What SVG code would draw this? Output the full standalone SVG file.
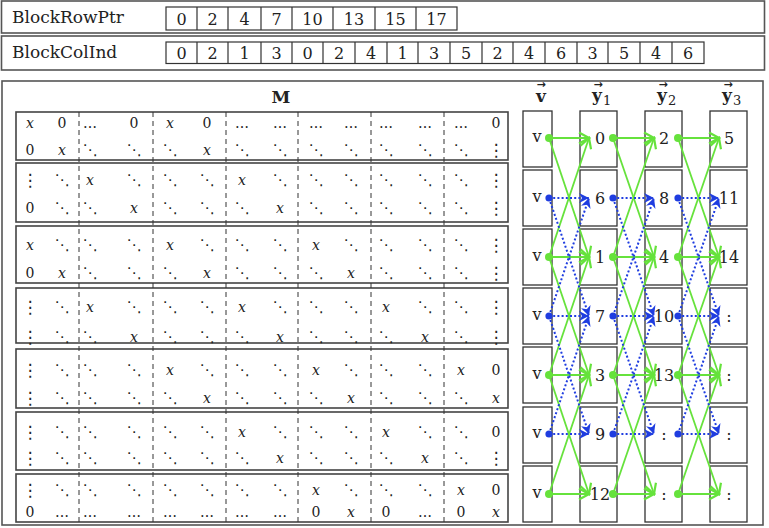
<svg xmlns="http://www.w3.org/2000/svg" width="769" height="528" viewBox="0 0 769 528">
<style>
.frame{fill:#fff;stroke:#555;stroke-width:1.6}
.cell{fill:#fff;stroke:#333;stroke-width:1.2}
.lab{font-family:"DejaVu Serif",serif;font-size:17px;fill:#222}
.num{font-family:"DejaVu Serif",serif;font-size:16px;fill:#222;text-anchor:middle}
.blk{fill:#fff;stroke:#444;stroke-width:1.6}
.dash{stroke:#333;stroke-width:1;stroke-dasharray:5 4}
.z{font-family:"DejaVu Serif",serif;font-size:14px;fill:#222;text-anchor:middle}
.a{font-family:"DejaVu Serif",serif;font-style:italic;font-size:14px;fill:#222;text-anchor:middle}
.g{font-family:"DejaVu Sans",sans-serif;font-size:15px;fill:#222;text-anchor:middle}
.v{font-family:"DejaVu Sans",sans-serif;font-size:17px;fill:#222;text-anchor:middle}
.hd{font-family:"DejaVu Serif",serif;font-size:17px;font-weight:bold;fill:#222}
.ar{font-family:"DejaVu Sans",sans-serif;font-size:11px;font-weight:bold;fill:#222}
.sub{font-family:"DejaVu Serif",serif;font-size:13px;font-weight:normal;fill:#222}
.box{fill:#fff;stroke:#333;stroke-width:1.3}
.gl{stroke:#66e23c;stroke-width:1.8;fill:none;marker-end:url(#ag)}
.bl{stroke:#1f3de0;stroke-width:2;stroke-dasharray:2 2.2;fill:none;marker-end:url(#ab)}
.gd{fill:#66e23c}
.bd{fill:#1f3de0}
</style>
<defs>
<marker id="ag" viewBox="-12 -7 14 14" markerWidth="14" markerHeight="14" refX="0" refY="0" orient="auto" markerUnits="userSpaceOnUse"><path d="M-10,-5.5 L0,0 L-10,5.5" fill="none" stroke="#66e23c" stroke-width="2.2"/></marker>
<marker id="ab" viewBox="-12 -7 14 14" markerWidth="14" markerHeight="14" refX="0" refY="0" orient="auto" markerUnits="userSpaceOnUse"><path d="M0,0 L-10,-5 L-7,0 L-10,5 Z" fill="#1f3de0"/></marker>
</defs>
<rect width="769" height="528" fill="#fff"/>

<g id="blockrowptr">
<rect class="frame" x="1.5" y="1" width="763" height="32"/>
<text class="lab" x="12" y="23">BlockRowPtr</text>
<rect class="cell" x="166" y="7" width="291" height="23"/>
<path d="M197,7V30M228,7V30M261,7V30M292,7V30M333,7V30M375,7V30M416,7V30" stroke="#333" stroke-width="1.2"/>
<text class="num" x="181.5" y="24.5">0</text><text class="num" x="212.5" y="24.5">2</text><text class="num" x="244.5" y="24.5">4</text><text class="num" x="276.5" y="24.5">7</text><text class="num" x="312.5" y="24.5">10</text><text class="num" x="354" y="24.5">13</text><text class="num" x="395.5" y="24.5">15</text><text class="num" x="436.5" y="24.5">17</text>
</g>

<g id="blockcolind">
<rect class="frame" x="1.5" y="36" width="763" height="34"/>
<text class="lab" x="12" y="58">BlockColInd</text>
<rect class="cell" x="166" y="42" width="538" height="21.5"/>
<path d="M197,42V63.5M228,42V63.5M261,42V63.5M292,42V63.5M323,42V63.5M355,42V63.5M387,42V63.5M418,42V63.5M450,42V63.5M482,42V63.5M513,42V63.5M545,42V63.5M577,42V63.5M608,42V63.5M640,42V63.5M672,42V63.5" stroke="#333" stroke-width="1.2"/>
<text class="num" x="181.5" y="58.5">0</text><text class="num" x="212.5" y="58.5">2</text><text class="num" x="244.5" y="58.5">1</text><text class="num" x="276.5" y="58.5">3</text><text class="num" x="307.5" y="58.5">0</text><text class="num" x="339" y="58.5">2</text><text class="num" x="371" y="58.5">4</text><text class="num" x="402.5" y="58.5">1</text><text class="num" x="434" y="58.5">3</text><text class="num" x="466" y="58.5">5</text><text class="num" x="497.5" y="58.5">2</text><text class="num" x="529" y="58.5">4</text><text class="num" x="561" y="58.5">6</text><text class="num" x="592.5" y="58.5">3</text><text class="num" x="624" y="58.5">5</text><text class="num" x="656" y="58.5">4</text><text class="num" x="688" y="58.5">6</text>
</g>

<rect class="frame" x="2" y="81" width="761" height="444"/>
<text class="hd" x="281" y="103" text-anchor="middle">M</text>

<g id="matrix">
<g id="mrow0">
<rect class="blk" x="16" y="112" width="492" height="48"/>
<text class="a" x="30" y="127.5">x</text><text class="z" x="62" y="127.5">0</text><text class="z" x="90" y="127.5">…</text><text class="z" x="134" y="127.5">0</text><text class="a" x="170" y="127.5">x</text><text class="z" x="207" y="127.5">0</text><text class="z" x="242" y="127.5">…</text><text class="z" x="280" y="127.5">…</text><text class="z" x="316" y="127.5">…</text><text class="z" x="351" y="127.5">…</text><text class="z" x="386" y="127.5">…</text><text class="z" x="425" y="127.5">…</text><text class="z" x="461" y="127.5">…</text><text class="z" x="496" y="127.5">0</text>
<text class="z" x="30" y="154.5">0</text><text class="a" x="62" y="154.5">x</text><text class="g" x="90" y="155">⋱</text><text class="g" x="134" y="155">⋱</text><text class="g" x="170" y="155">⋱</text><text class="a" x="207" y="154.5">x</text><text class="g" x="242" y="155">⋱</text><text class="g" x="280" y="155">⋱</text><text class="g" x="316" y="155">⋱</text><text class="g" x="351" y="155">⋱</text><text class="g" x="386" y="155">⋱</text><text class="g" x="425" y="155">⋱</text><text class="g" x="461" y="155">⋱</text><text class="v" x="496" y="156">⋮</text>
</g>
<g id="mrow1">
<rect class="blk" x="16" y="163" width="492" height="59"/>
<text class="v" x="30" y="186">⋮</text><text class="g" x="62" y="185">⋱</text><text class="a" x="90" y="184.5">x</text><text class="g" x="134" y="185">⋱</text><text class="g" x="170" y="185">⋱</text><text class="g" x="207" y="185">⋱</text><text class="a" x="242" y="184.5">x</text><text class="g" x="280" y="185">⋱</text><text class="g" x="316" y="185">⋱</text><text class="g" x="351" y="185">⋱</text><text class="g" x="386" y="185">⋱</text><text class="g" x="425" y="185">⋱</text><text class="g" x="461" y="185">⋱</text><text class="v" x="496" y="186">⋮</text>
<text class="z" x="30" y="212.5">0</text><text class="g" x="62" y="213">⋱</text><text class="g" x="90" y="213">⋱</text><text class="a" x="134" y="212.5">x</text><text class="g" x="170" y="213">⋱</text><text class="g" x="207" y="213">⋱</text><text class="g" x="242" y="213">⋱</text><text class="a" x="280" y="212.5">x</text><text class="g" x="316" y="213">⋱</text><text class="g" x="351" y="213">⋱</text><text class="g" x="386" y="213">⋱</text><text class="g" x="425" y="213">⋱</text><text class="g" x="461" y="213">⋱</text><text class="v" x="496" y="214">⋮</text>
</g>
<g id="mrow2">
<rect class="blk" x="16" y="226" width="492" height="57"/>
<text class="a" x="30" y="249.5">x</text><text class="g" x="62" y="250">⋱</text><text class="g" x="90" y="250">⋱</text><text class="g" x="134" y="250">⋱</text><text class="a" x="170" y="249.5">x</text><text class="g" x="207" y="250">⋱</text><text class="g" x="242" y="250">⋱</text><text class="g" x="280" y="250">⋱</text><text class="a" x="316" y="249.5">x</text><text class="g" x="351" y="250">⋱</text><text class="g" x="386" y="250">⋱</text><text class="g" x="425" y="250">⋱</text><text class="g" x="461" y="250">⋱</text><text class="v" x="496" y="251">⋮</text>
<text class="z" x="30" y="277.5">0</text><text class="a" x="62" y="277.5">x</text><text class="g" x="90" y="278">⋱</text><text class="g" x="134" y="278">⋱</text><text class="g" x="170" y="278">⋱</text><text class="a" x="207" y="277.5">x</text><text class="g" x="242" y="278">⋱</text><text class="g" x="280" y="278">⋱</text><text class="g" x="316" y="278">⋱</text><text class="a" x="351" y="277.5">x</text><text class="g" x="386" y="278">⋱</text><text class="g" x="425" y="278">⋱</text><text class="g" x="461" y="278">⋱</text><text class="v" x="496" y="279">⋮</text>
</g>
<g id="mrow3">
<rect class="blk" x="16" y="288" width="492" height="55"/>
<text class="v" x="30" y="313">⋮</text><text class="g" x="62" y="312">⋱</text><text class="a" x="90" y="311.5">x</text><text class="g" x="134" y="312">⋱</text><text class="g" x="170" y="312">⋱</text><text class="g" x="207" y="312">⋱</text><text class="a" x="242" y="311.5">x</text><text class="g" x="280" y="312">⋱</text><text class="g" x="316" y="312">⋱</text><text class="g" x="351" y="312">⋱</text><text class="a" x="386" y="311.5">x</text><text class="g" x="425" y="312">⋱</text><text class="g" x="461" y="312">⋱</text><text class="v" x="496" y="313">⋮</text>
<text class="v" x="30" y="343">⋮</text><text class="g" x="62" y="342">⋱</text><text class="g" x="90" y="342">⋱</text><text class="a" x="134" y="341.5">x</text><text class="g" x="170" y="342">⋱</text><text class="g" x="207" y="342">⋱</text><text class="g" x="242" y="342">⋱</text><text class="a" x="280" y="341.5">x</text><text class="g" x="316" y="342">⋱</text><text class="g" x="351" y="342">⋱</text><text class="g" x="386" y="342">⋱</text><text class="a" x="425" y="341.5">x</text><text class="g" x="461" y="342">⋱</text><text class="v" x="496" y="343">⋮</text>
</g>
<g id="mrow4">
<rect class="blk" x="16" y="349" width="492" height="59"/>
<text class="v" x="30" y="376">⋮</text><text class="g" x="62" y="375">⋱</text><text class="g" x="90" y="375">⋱</text><text class="g" x="134" y="375">⋱</text><text class="a" x="170" y="374.5">x</text><text class="g" x="207" y="375">⋱</text><text class="g" x="242" y="375">⋱</text><text class="g" x="280" y="375">⋱</text><text class="a" x="316" y="374.5">x</text><text class="g" x="351" y="375">⋱</text><text class="g" x="386" y="375">⋱</text><text class="g" x="425" y="375">⋱</text><text class="a" x="461" y="374.5">x</text><text class="z" x="496" y="374.5">0</text>
<text class="v" x="30" y="404">⋮</text><text class="g" x="62" y="403">⋱</text><text class="g" x="90" y="403">⋱</text><text class="g" x="134" y="403">⋱</text><text class="g" x="170" y="403">⋱</text><text class="a" x="207" y="402.5">x</text><text class="g" x="242" y="403">⋱</text><text class="g" x="280" y="403">⋱</text><text class="g" x="316" y="403">⋱</text><text class="a" x="351" y="402.5">x</text><text class="g" x="386" y="403">⋱</text><text class="g" x="425" y="403">⋱</text><text class="g" x="461" y="403">⋱</text><text class="a" x="496" y="402.5">x</text>
</g>
<g id="mrow5">
<rect class="blk" x="16" y="412" width="492" height="58"/>
<text class="v" x="30" y="438">⋮</text><text class="g" x="62" y="437">⋱</text><text class="g" x="90" y="437">⋱</text><text class="g" x="134" y="437">⋱</text><text class="g" x="170" y="437">⋱</text><text class="g" x="207" y="437">⋱</text><text class="a" x="242" y="436.5">x</text><text class="g" x="280" y="437">⋱</text><text class="g" x="316" y="437">⋱</text><text class="g" x="351" y="437">⋱</text><text class="a" x="386" y="436.5">x</text><text class="g" x="425" y="437">⋱</text><text class="g" x="461" y="437">⋱</text><text class="z" x="496" y="436.5">0</text>
<text class="v" x="30" y="464">⋮</text><text class="g" x="62" y="463">⋱</text><text class="g" x="90" y="463">⋱</text><text class="g" x="134" y="463">⋱</text><text class="g" x="170" y="463">⋱</text><text class="g" x="207" y="463">⋱</text><text class="g" x="242" y="463">⋱</text><text class="a" x="280" y="462.5">x</text><text class="g" x="316" y="463">⋱</text><text class="g" x="351" y="463">⋱</text><text class="g" x="386" y="463">⋱</text><text class="a" x="425" y="462.5">x</text><text class="g" x="461" y="463">⋱</text><text class="v" x="496" y="464">⋮</text>
</g>
<g id="mrow6">
<rect class="blk" x="16" y="474" width="492" height="48"/>
<text class="v" x="30" y="496">⋮</text><text class="g" x="62" y="495">⋱</text><text class="g" x="90" y="495">⋱</text><text class="g" x="134" y="495">⋱</text><text class="g" x="170" y="495">⋱</text><text class="g" x="207" y="495">⋱</text><text class="g" x="242" y="495">⋱</text><text class="g" x="280" y="495">⋱</text><text class="a" x="316" y="494.5">x</text><text class="g" x="351" y="495">⋱</text><text class="g" x="386" y="495">⋱</text><text class="g" x="425" y="495">⋱</text><text class="a" x="461" y="494.5">x</text><text class="z" x="496" y="494.5">0</text>
<text class="z" x="30" y="516.5">0</text><text class="z" x="62" y="516.5">…</text><text class="z" x="90" y="516.5">…</text><text class="z" x="134" y="516.5">…</text><text class="z" x="170" y="516.5">…</text><text class="z" x="207" y="516.5">…</text><text class="z" x="242" y="516.5">…</text><text class="z" x="280" y="516.5">…</text><text class="z" x="316" y="516.5">0</text><text class="a" x="351" y="516.5">x</text><text class="z" x="386" y="516.5">0</text><text class="z" x="425" y="516.5">…</text><text class="z" x="461" y="516.5">0</text><text class="a" x="496" y="516.5">x</text>
</g>
<path class="dash" d="M79,112V522M153,112V522M226,112V522M298,112V522M371,112V522M444,112V522"/>
</g>

<g id="headers">
<text class="hd" x="536" y="102">v<tspan class="ar" x="536.5" y="88">→</tspan></text>
<text class="hd" x="592" y="101">y<tspan class="ar" x="593.5" y="88">→</tspan><tspan class="sub" x="603" y="105">1</tspan></text>
<text class="hd" x="657" y="101">y<tspan class="ar" x="658.5" y="88">→</tspan><tspan class="sub" x="668" y="105">2</tspan></text>
<text class="hd" x="722" y="101">y<tspan class="ar" x="723.5" y="88">→</tspan><tspan class="sub" x="733" y="105">3</tspan></text>
</g>

<g id="vcol">
<g id="v0"><rect class="box" x="523" y="111" width="29" height="56"/><text class="num" x="537" y="142">v</text></g>
<g id="v1"><rect class="box" x="523" y="170" width="29" height="56"/><text class="num" x="537" y="202">v</text></g>
<g id="v2"><rect class="box" x="523" y="229" width="29" height="56"/><text class="num" x="537" y="261">v</text></g>
<g id="v3"><rect class="box" x="523" y="288" width="29" height="56"/><text class="num" x="537" y="320">v</text></g>
<g id="v4"><rect class="box" x="523" y="347" width="29" height="56"/><text class="num" x="537" y="379">v</text></g>
<g id="v5"><rect class="box" x="523" y="407" width="29" height="56"/><text class="num" x="537" y="438">v</text></g>
<g id="v6"><rect class="box" x="523" y="466" width="29" height="56"/><text class="num" x="537" y="498">v</text></g>
</g>
<g id="y1col">
<g id="y1_0"><rect class="box" x="580" y="111" width="37" height="56"/><text class="num" x="600" y="144">0</text></g>
<g id="y1_1"><rect class="box" x="580" y="170" width="37" height="56"/><text class="num" x="600" y="204">6</text></g>
<g id="y1_2"><rect class="box" x="580" y="229" width="37" height="56"/><text class="num" x="600" y="263">1</text></g>
<g id="y1_3"><rect class="box" x="580" y="288" width="37" height="56"/><text class="num" x="600" y="322">7</text></g>
<g id="y1_4"><rect class="box" x="580" y="347" width="37" height="56"/><text class="num" x="600" y="381">3</text></g>
<g id="y1_5"><rect class="box" x="580" y="407" width="37" height="56"/><text class="num" x="600" y="440">9</text></g>
<g id="y1_6"><rect class="box" x="580" y="466" width="37" height="56"/><text class="num" x="600" y="500">12</text></g>
</g>
<g id="y2col">
<g id="y2_0"><rect class="box" x="645" y="111" width="37" height="56"/><text class="num" x="664" y="144">2</text></g>
<g id="y2_1"><rect class="box" x="645" y="170" width="37" height="56"/><text class="num" x="664" y="204">8</text></g>
<g id="y2_2"><rect class="box" x="645" y="229" width="37" height="56"/><text class="num" x="664" y="263">4</text></g>
<g id="y2_3"><rect class="box" x="645" y="288" width="37" height="56"/><text class="num" x="664" y="322">10</text></g>
<g id="y2_4"><rect class="box" x="645" y="347" width="37" height="56"/><text class="num" x="664" y="381">13</text></g>
<g id="y2_5"><rect class="box" x="645" y="407" width="37" height="56"/><text class="num" x="664" y="440">:</text></g>
<g id="y2_6"><rect class="box" x="645" y="466" width="37" height="56"/><text class="num" x="664" y="500">:</text></g>
</g>
<g id="y3col">
<g id="y3_0"><rect class="box" x="710" y="111" width="37" height="56"/><text class="num" x="729" y="144">5</text></g>
<g id="y3_1"><rect class="box" x="710" y="170" width="37" height="56"/><text class="num" x="729" y="204">11</text></g>
<g id="y3_2"><rect class="box" x="710" y="229" width="37" height="56"/><text class="num" x="729" y="263">14</text></g>
<g id="y3_3"><rect class="box" x="710" y="288" width="37" height="56"/><text class="num" x="729" y="322">:</text></g>
<g id="y3_4"><rect class="box" x="710" y="347" width="37" height="56"/><text class="num" x="729" y="381">:</text></g>
<g id="y3_5"><rect class="box" x="710" y="407" width="37" height="56"/><text class="num" x="729" y="440">:</text></g>
<g id="y3_6"><rect class="box" x="710" y="466" width="37" height="56"/><text class="num" x="729" y="500">:</text></g>
</g>

<g id="connectors">
<g id="green">
<line class="gl" x1="549" y1="138" x2="589" y2="138"/><line class="gl" x1="549" y1="138" x2="589" y2="257"/>
<line class="gl" x1="549" y1="257" x2="589" y2="138"/><line class="gl" x1="549" y1="257" x2="589" y2="257"/><line class="gl" x1="549" y1="257" x2="589" y2="375"/>
<line class="gl" x1="549" y1="375" x2="589" y2="257"/><line class="gl" x1="549" y1="375" x2="589" y2="375"/><line class="gl" x1="549" y1="375" x2="589" y2="494"/>
<line class="gl" x1="549" y1="494" x2="589" y2="375"/><line class="gl" x1="549" y1="494" x2="589" y2="494"/>
<line class="gl" x1="613" y1="138" x2="654" y2="138"/><line class="gl" x1="613" y1="138" x2="654" y2="257"/>
<line class="gl" x1="613" y1="257" x2="654" y2="138"/><line class="gl" x1="613" y1="257" x2="654" y2="257"/><line class="gl" x1="613" y1="257" x2="654" y2="375"/>
<line class="gl" x1="613" y1="375" x2="654" y2="257"/><line class="gl" x1="613" y1="375" x2="654" y2="375"/><line class="gl" x1="613" y1="375" x2="654" y2="494"/>
<line class="gl" x1="613" y1="494" x2="654" y2="375"/><line class="gl" x1="613" y1="494" x2="654" y2="494"/>
<line class="gl" x1="678" y1="138" x2="719" y2="138"/><line class="gl" x1="678" y1="138" x2="719" y2="257"/>
<line class="gl" x1="678" y1="257" x2="719" y2="138"/><line class="gl" x1="678" y1="257" x2="719" y2="257"/><line class="gl" x1="678" y1="257" x2="719" y2="375"/>
<line class="gl" x1="678" y1="375" x2="719" y2="257"/><line class="gl" x1="678" y1="375" x2="719" y2="375"/><line class="gl" x1="678" y1="375" x2="719" y2="494"/>
<line class="gl" x1="678" y1="494" x2="719" y2="375"/><line class="gl" x1="678" y1="494" x2="719" y2="494"/>
</g>
<g id="blue">
<line class="bl" x1="549" y1="198" x2="589" y2="198"/><line class="bl" x1="549" y1="198" x2="589" y2="316"/>
<line class="bl" x1="549" y1="316" x2="589" y2="198"/><line class="bl" x1="549" y1="316" x2="589" y2="316"/><line class="bl" x1="549" y1="316" x2="589" y2="434"/>
<line class="bl" x1="549" y1="434" x2="589" y2="316"/><line class="bl" x1="549" y1="434" x2="589" y2="434"/>
<line class="bl" x1="613" y1="198" x2="654" y2="198"/><line class="bl" x1="613" y1="198" x2="654" y2="316"/>
<line class="bl" x1="613" y1="316" x2="654" y2="198"/><line class="bl" x1="613" y1="316" x2="654" y2="316"/><line class="bl" x1="613" y1="316" x2="654" y2="434"/>
<line class="bl" x1="613" y1="434" x2="654" y2="316"/><line class="bl" x1="613" y1="434" x2="654" y2="434"/>
<line class="bl" x1="678" y1="198" x2="719" y2="198"/><line class="bl" x1="678" y1="198" x2="719" y2="316"/>
<line class="bl" x1="678" y1="316" x2="719" y2="198"/><line class="bl" x1="678" y1="316" x2="719" y2="316"/><line class="bl" x1="678" y1="316" x2="719" y2="434"/>
<line class="bl" x1="678" y1="434" x2="719" y2="316"/><line class="bl" x1="678" y1="434" x2="719" y2="434"/>
</g>
<g id="dots">
<circle class="gd" cx="549" cy="138" r="4"/><circle class="gd" cx="549" cy="257" r="4"/><circle class="gd" cx="549" cy="375" r="4"/><circle class="gd" cx="549" cy="494" r="4"/>
<circle class="gd" cx="613" cy="138" r="4"/><circle class="gd" cx="613" cy="257" r="4"/><circle class="gd" cx="613" cy="375" r="4"/><circle class="gd" cx="613" cy="494" r="4"/>
<circle class="gd" cx="678" cy="138" r="4"/><circle class="gd" cx="678" cy="257" r="4"/><circle class="gd" cx="678" cy="375" r="4"/><circle class="gd" cx="678" cy="494" r="4"/>
<circle class="bd" cx="549" cy="198" r="3.6"/><circle class="bd" cx="549" cy="316" r="3.6"/><circle class="bd" cx="549" cy="434" r="3.6"/>
<circle class="bd" cx="613" cy="198" r="3.6"/><circle class="bd" cx="613" cy="316" r="3.6"/><circle class="bd" cx="613" cy="434" r="3.6"/>
<circle class="bd" cx="678" cy="198" r="3.6"/><circle class="bd" cx="678" cy="316" r="3.6"/><circle class="bd" cx="678" cy="434" r="3.6"/>
</g>
</g>
</svg>
